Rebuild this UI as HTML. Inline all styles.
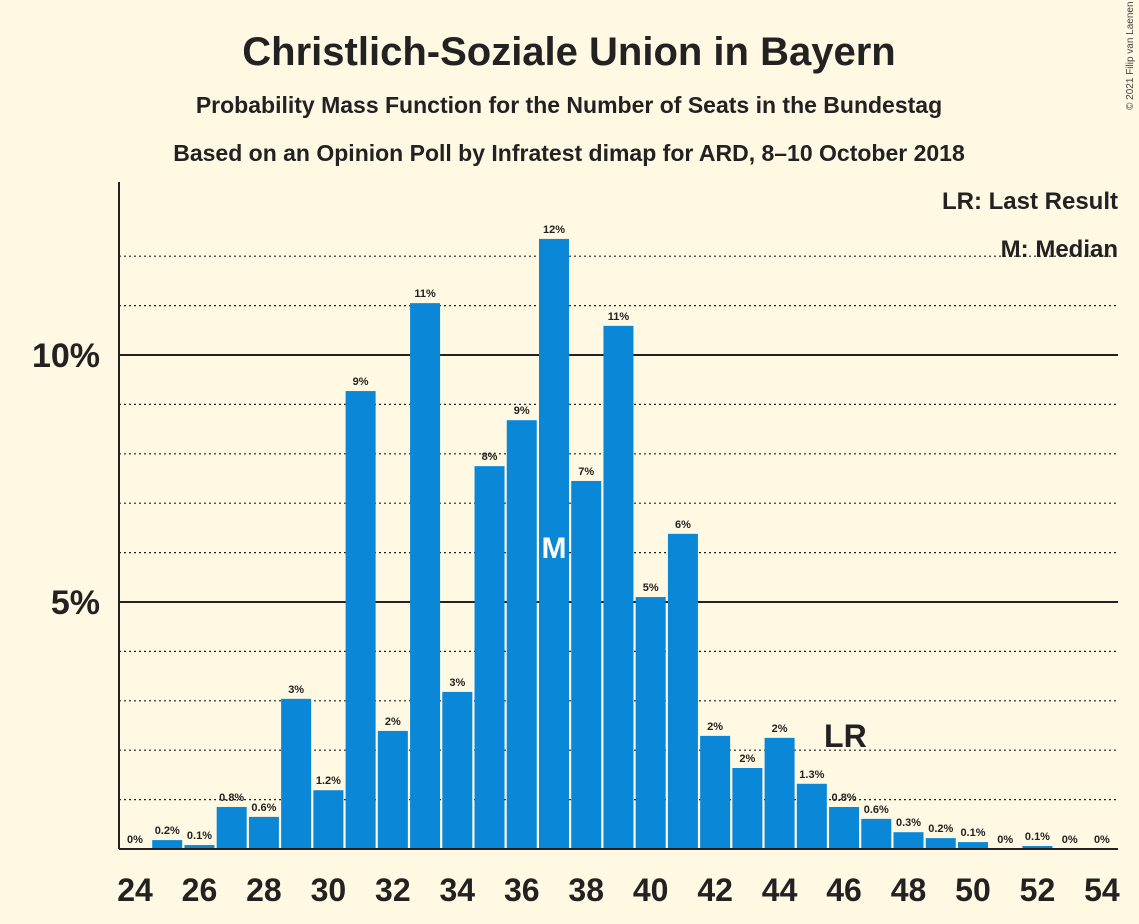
<!DOCTYPE html>
<html><head><meta charset="utf-8"><style>
body{margin:0;background:#fff8e3;}
svg{display:block;font-family:"Liberation Sans",sans-serif;}
</style></head><body>
<svg width="1139" height="924" viewBox="0 0 1139 924">
<rect width="1139" height="924" fill="#fff8e3"/>
<text x="569" y="65" text-anchor="middle" font-size="40" font-weight="bold" fill="#222">Christlich-Soziale Union in Bayern</text>
<text x="569" y="113" text-anchor="middle" font-size="23" font-weight="bold" fill="#222">Probability Mass Function for the Number of Seats in the Bundestag</text>
<text x="569" y="161" text-anchor="middle" font-size="23" font-weight="bold" fill="#222">Based on an Opinion Poll by Infratest dimap for ARD, 8–10 October 2018</text>
<text x="1133" y="110" font-size="10" fill="#444" transform="rotate(-90 1133 110)">© 2021 Filip van Laenen</text>
<g id="grid"></g>
<g id="bars"></g>
<g id="xt"></g>
<line x1="119" y1="182" x2="119" y2="849" stroke="#222" stroke-width="2"/>
<line x1="119" y1="849" x2="1118" y2="849" stroke="#222" stroke-width="2"/>
<text x="1118" y="209" text-anchor="end" font-size="24" font-weight="bold" fill="#222">LR: Last Result</text>
<text x="1118" y="257" text-anchor="end" font-size="24" font-weight="bold" fill="#222">M: Median</text>
</svg>
<script>
const seats=[24,25,26,27,28,29,30,31,32,33,34,35,36,37,38,39,40,41,42,43,44,45,46,47,48,49,50,51,52,53,54];
const probs=[0,0.18,0.08,0.85,0.65,3.04,1.19,9.27,2.39,11.05,3.18,7.75,8.68,12.35,7.45,10.59,5.1,6.38,2.29,1.64,2.25,1.32,0.85,0.61,0.34,0.22,0.14,0,0.06,0,0];
const labels=["0%","0.2%","0.1%","0.8%","0.6%","3%","1.2%","9%","2%","11%","3%","8%","9%","12%","7%","11%","5%","6%","2%","2%","2%","1.3%","0.8%","0.6%","0.3%","0.2%","0.1%","0%","0.1%","0%","0%"];
const gridVals=[1,2,3,4,5,6,7,8,9,10,11,12];
const yTicks=[5,10];
const yTickLabels=["5%","10%"];
const xTicks=[24,26,28,30,32,34,36,38,40,42,44,46,48,50,52,54];
const medianSeat=37, lastResultSeat=46;
const NS="http://www.w3.org/2000/svg";
const X=s=>135+(s-24)*32.23;
const Y=v=>849-v*49.4;
function mk(t,a,p,txt){const e=document.createElementNS(NS,t);for(const k in a)e.setAttribute(k,a[k]);if(txt!==undefined)e.textContent=txt;p.appendChild(e);return e;}
const g=document.getElementById('grid'),b=document.getElementById('bars'),xt=document.getElementById('xt');
gridVals.forEach(v=>{const solid=v%5===0;
const l=mk('line',{x1:119,x2:1118,y1:Y(v),y2:Y(v),stroke:'#222','stroke-width':solid?2:1.2,'stroke-dasharray':solid?'':'2,3'},g);

});
yTicks.forEach((v,i)=>{const t=mk('text',{x:100,y:Y(v)+12,'text-anchor':'end','font-size':34,'font-weight':'bold',fill:'#222'},g,yTickLabels[i]);

});
seats.forEach((s,i)=>{const v=probs[i];
if(v>0){const r=mk('rect',{x:X(s)-15,y:Y(v),width:30,height:849-Y(v),fill:'#0a87d6'},b);

}
const t=mk('text',{x:X(s),y:Y(v)-6,'text-anchor':'middle','font-size':11,'font-weight':'bold',fill:'#222'},b,labels[i]);


if(s===medianSeat){const m=mk('text',{x:X(s),y:558,'text-anchor':'middle','font-size':30,'font-weight':'bold',fill:'#fff'},b,'M');

}
if(s===lastResultSeat){const m=mk('text',{x:X(s),y:Y(v)-60,'text-anchor':'start','font-size':32,'font-weight':'bold',fill:'#222',dx:-20},b,'LR');

}
});
xTicks.forEach(s=>{const t=mk('text',{x:X(s),y:901,'text-anchor':'middle','font-size':32,'font-weight':'bold',fill:'#222'},xt,String(s));

});
</script>
</body></html>
